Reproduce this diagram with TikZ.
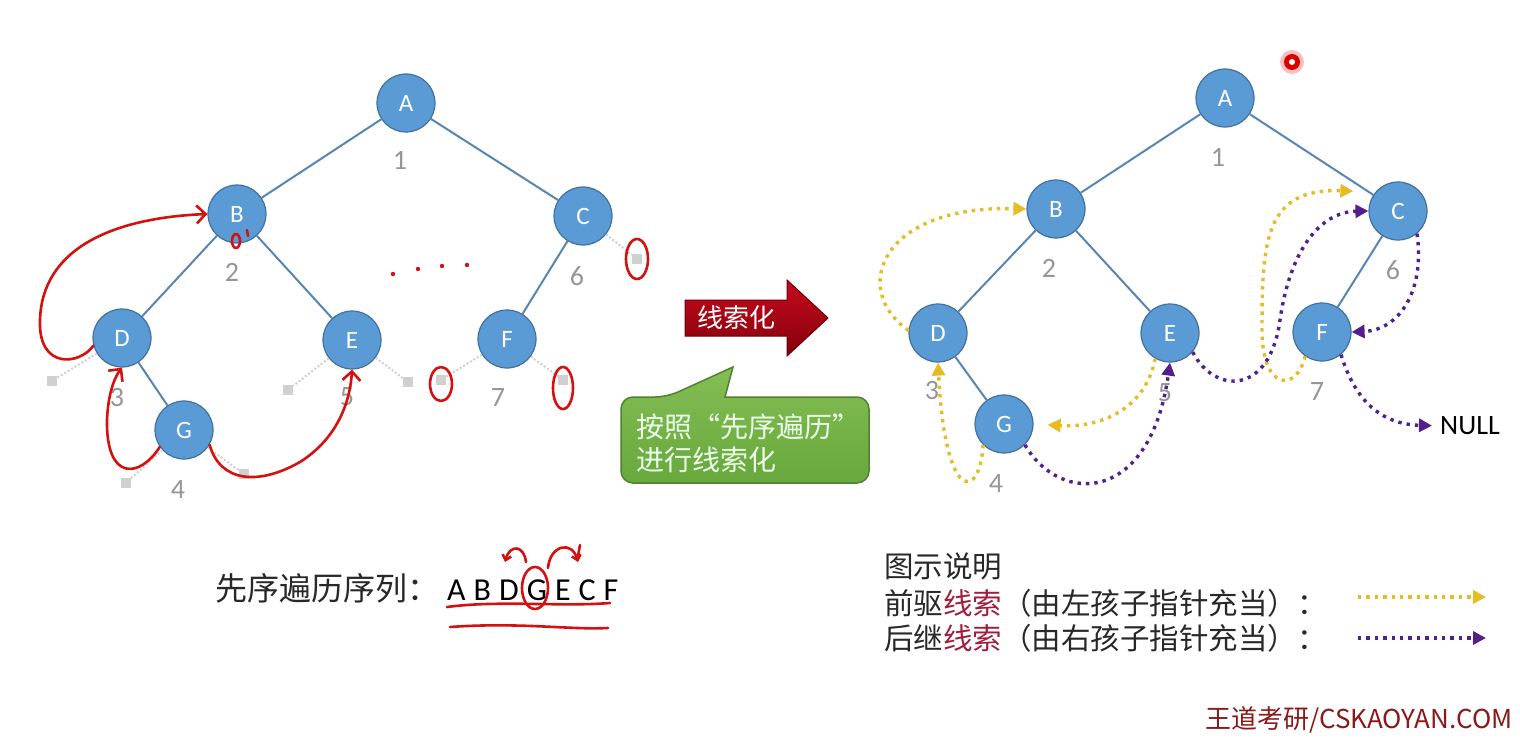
\documentclass[tikz,border=0pt]{standalone}
\usepackage{fontspec}
\setmainfont{Carlito}
\newfontfamily\cjk{Noto Sans CJK SC}
\usetikzlibrary{arrows.meta}

\definecolor{nodeblue}{RGB}{91,155,213}
\definecolor{nodeedge}{RGB}{65,113,156}
\definecolor{treeline}{RGB}{88,134,178}
\definecolor{numgray}{RGB}{150,150,150}
\definecolor{nullgray}{RGB}{208,208,208}
\definecolor{inkred}{RGB}{212,16,16}
\definecolor{preyellow}{RGB}{230,188,36}
\definecolor{sucpurple}{RGB}{84,30,140}
\definecolor{arrowtop}{RGB}{200,10,30}
\definecolor{arrowbot}{RGB}{130,0,10}
\definecolor{greentop}{RGB}{132,190,84}
\definecolor{greenbot}{RGB}{104,168,60}
\definecolor{greenedge}{RGB}{80,128,50}
\definecolor{threadred}{RGB}{160,30,60}
\definecolor{wdred}{RGB}{140,25,25}
\definecolor{legtext}{RGB}{40,40,40}

\newcommand{\fwq}[1]{{\addfontfeature{CharacterWidth=Full}#1}}

\begin{document}
\begin{tikzpicture}[x=1pt, y=-1pt,
    tnode/.style={circle, fill=nodeblue, draw=nodeedge, line width=1.2pt, minimum size=58pt, inner sep=0pt, text=white, font=\fontsize{25}{25}\selectfont},
    num/.style={text=numgray, font=\fontsize{28}{28}\selectfont},
    nullsq/.style={fill=nullgray, minimum size=10pt, inner sep=0pt},
    nulledge/.style={draw=nullgray, line width=2pt, dotted},
    tedge/.style={draw=treeline, line width=2pt},
    ink/.style={draw=inkred, line width=2.6pt, line cap=round, line join=round},
    inkarrow/.style={ink, -{Straight Barb[length=9pt, width=18pt]}},
    thread/.style={line width=3.4pt, dash pattern=on 3.4pt off 5pt, -{Triangle[length=13pt, width=13pt]}},
    pre/.style={thread, draw=preyellow},
    suc/.style={thread, draw=sucpurple},
    cjktext/.style={font=\cjk\fontsize{29.5}{33}\selectfont, text=legtext, inner sep=0pt}]
    \fill[white] (0,0) rectangle (1520,741);
    \useasboundingbox (0,0) rectangle (1520,741);
    % left tree
    \node[tnode] (lA) at (406,103) {A};
    \node[tnode] (lB) at (237,214) {B};
    \node[tnode] (lC) at (583,216) {C};
    \node[tnode] (lD) at (122,338) {D};
    \node[tnode] (lE) at (352,340) {E};
    \node[tnode] (lF) at (507,339) {F};
    \node[tnode] (lG) at (184,430) {G};
    \node[num] (ln1) at (400,160) {1};
    \node[num] (ln2) at (232,272) {2};
    \node[num] (ln3) at (117,398) {3};
    \node[num] (ln4) at (178,490) {4};
    \node[num] (ln5) at (347,397) {5};
    \node[num] (ln6) at (577,276) {6};
    \node[num] (ln7) at (498,398) {7};
    % empty child pointers
    \node[nullsq] (lDl) at (52,381) {};
    \node[nullsq] (lGl) at (126,483) {};
    \node[nullsq] (lGr) at (244,474) {};
    \node[nullsq] (lEl) at (288,390) {};
    \node[nullsq] (lEr) at (408,382) {};
    \node[nullsq] (lFl) at (441,380) {};
    \node[nullsq] (lFr) at (563,380) {};
    \node[nullsq] (lCr) at (637,259) {};
    \foreach \a/\b in {lA/lB, lA/lC, lB/lD, lB/lE, lC/lF, lD/lG} \draw[tedge] (\a) -- (\b);
    \foreach \a/\b in {lD/lDl, lG/lGl, lG/lGr, lE/lEl, lE/lEr, lF/lFl, lF/lFr, lC/lCr} \draw[nulledge] (\a) -- (\b);
    % hand marks
    \draw[inkarrow] (lD.195) .. controls (80,365) and (38,370) .. (40,320) .. controls (42,250) and (110,218) .. (lB.west);
    \draw[inkarrow] (lG.215) .. controls (140,478) and (106,482) .. (107,420) .. controls (108,395) and (114,378) .. (lD.south);
    \draw[inkarrow] (lG.-30) .. controls (220,482) and (258,486) .. (300,462) .. controls (335,440) and (350,405) .. (lE.south);
    \draw[ink] (lCr) ellipse [x radius=11, y radius=20];
    \draw[ink] ([yshift=-4pt]lFl.center) ellipse [x radius=11, y radius=17];
    \draw[ink] ([yshift=-8pt]lFr.center) ellipse [x radius=10, y radius=21];
    \draw[ink] (236,241) ellipse [x radius=4, y radius=7];
    \draw[ink] (247,230) -- (248,236);
    \foreach \x/\y in {393/274, 418/269, 442/266, 467/265} \fill[inkred] (\x,\y) circle (2.2);
    % right tree
    \node[tnode] (rA) at (1225,98) {A};
    \node[tnode] (rB) at (1056,209) {B};
    \node[tnode] (rC) at (1398,211) {C};
    \node[tnode] (rD) at (938,333) {D};
    \node[tnode] (rE) at (1170,333) {E};
    \node[tnode] (rF) at (1322,332) {F};
    \node[tnode] (rG) at (1004,424) {G};
    \node[num] (rn1) at (1218,157) {1};
    \node[num] (rn2) at (1049,268) {2};
    \node[num] (rn3) at (932,391) {3};
    \node[num] (rn4) at (996,484) {4};
    \node[num] (rn5) at (1165,393) {5};
    \node[num] (rn6) at (1393,270) {6};
    \node[num] (rn7) at (1317,392) {7};
    \node[font=\fontsize{28}{28}\selectfont, anchor=west, inner sep=0pt] (rNull) at (1440,426) {NULL};
    \foreach \a/\b in {rA/rB, rA/rC, rB/rD, rB/rE, rC/rF, rD/rG} \draw[tedge] (\a) -- (\b);
    % predecessor threads
    \draw[pre] (rD.175) .. controls (850,290) and (880,205) .. (rB.west);
    \draw[pre] (rG.225) .. controls (980,500) and (945,505) .. (rD.south);
    \draw[pre, shorten >=14pt] (rE.240) .. controls (1145,410) and (1100,428) .. (rG.east);
    \draw[pre, shorten >=22pt] (rF.235) .. controls (1297,392) and (1262,392) .. (1262,330) .. controls (1262,240) and (1265,188) .. (rC.140);
    % successor threads
    \draw[suc] (rG.-45) .. controls (1060,505) and (1150,505) .. (rE.south);
    \draw[suc] (rE.-40) .. controls (1215,395) and (1270,395) .. (1280,320) .. controls (1290,250) and (1320,212) .. (rC.west);
    \draw[suc] (rC.-50) .. controls (1425,290) and (1400,330) .. (rF.east);
    \draw[suc, shorten >=8pt] (rF.-50) .. controls (1355,400) and (1380,424) .. (rNull.west);
    % laser pointer
    \fill[red, opacity=0.25] (1292,62) circle (12);
    \fill[red!85!black] (1292,62) circle (8);
    \fill[white] (1292,62) circle (3);
    % middle arrow and callout
    \path[top color=arrowtop, bottom color=arrowbot, draw=arrowbot!80!black, line width=1pt]
        (685,300) -- (787,300) -- (787,280) -- (828,318) -- (787,356) -- (787,336) -- (685,336) -- cycle;
    \node[font=\cjk\fontsize{26}{26}\selectfont, text=white] (arrowText) at (736,318) {线索化};
    \path[top color=greentop, bottom color=greenbot, draw=greenedge, line width=1.5pt]
        (621,440) [rounded corners=12pt] -- (621,397) -- (667,397) [sharp corners] -- (733,367) -- (725,397)
        [rounded corners=12pt] -- (869,397) -- (869,483) -- (621,483) -- cycle;
    \node[cjktext, font=\cjk\fontsize{28}{33}\selectfont, text=white!92!green, anchor=west, align=left] (callText) at (636,443) {按照\fwq{“}先序遍历\fwq{”}\\进行线索化};
    % preorder sequence
    \node[cjktext, font=\cjk\fontsize{32}{32}\selectfont, anchor=west] (seqLabel) at (215,588) {先序遍历序列：};
    \node[font=\fontsize{32}{32}\selectfont, anchor=west, inner sep=0pt] (seqText) at (447,590) {\spaceskip=8pt A B D G E C F};
    \draw[ink] (535,588) ellipse [x radius=13, y radius=21];
    \draw[ink] (447,607) .. controls (500,600) and (560,607) .. (610,603);
    \draw[ink] (450,627) .. controls (520,622) and (570,630) .. (608,628);
    \draw[ink, -{Straight Barb[length=5pt, width=9pt]}] (526,562) .. controls (524,545) and (510,544) .. (505,562);
    \draw[ink, -{Straight Barb[length=5pt, width=9pt]}] (548,568) .. controls (550,545) and (572,540) .. (578,562);
    \draw[ink] (580,545) -- (578,556);
    % legend
    \node[cjktext, anchor=west] (legTitle) at (884,566) {图示说明};
    \node[cjktext, anchor=west] (legPre) at (884,603) {前驱\textcolor{threadred}{线索}（由左孩子指针充当）：};
    \node[cjktext, anchor=west] (legSuc) at (884,638) {后继\textcolor{threadred}{线索}（由右孩子指针充当）：};
    \coordinate (preS) at (1358,597);
    \coordinate (preE) at (1486,597);
    \coordinate (sucS) at (1358,638);
    \coordinate (sucE) at (1486,638);
    \draw[pre] (preS) -- (preE);
    \draw[suc] (sucS) -- (sucE);
    % watermark
    \node[font=\cjk\fontsize{26}{26}\selectfont, text=wdred, anchor=west, inner sep=0pt] (wdMark) at (1205,720) {王道考研/CSKAOYAN.COM};
\end{tikzpicture}
\end{document}
